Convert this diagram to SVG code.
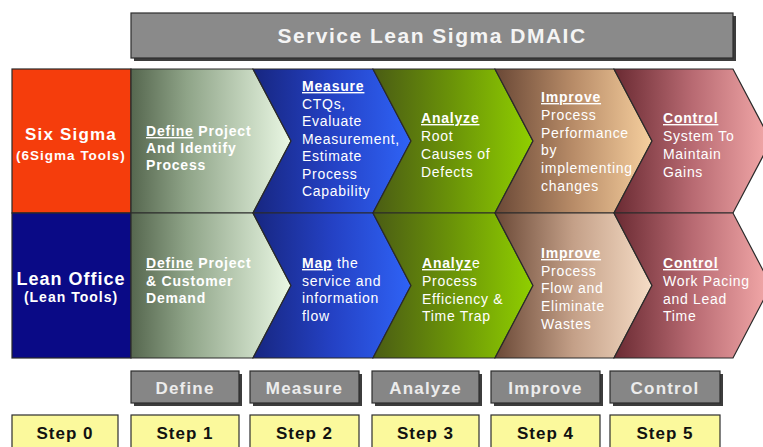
<svg xmlns="http://www.w3.org/2000/svg" width="763" height="447" viewBox="0 0 763 447">
  <defs>
    <linearGradient id="gDefine" x1="0" y1="0" x2="1" y2="0">
      <stop offset="0" stop-color="#56674f"/>
      <stop offset="0.35" stop-color="#8fa488"/>
      <stop offset="1" stop-color="#eaf8e4"/>
    </linearGradient>
    <linearGradient id="gMeasure" x1="0" y1="0" x2="1" y2="0">
      <stop offset="0" stop-color="#172680"/>
      <stop offset="0.5" stop-color="#2441c4"/>
      <stop offset="1" stop-color="#2f63f6"/>
    </linearGradient>
    <linearGradient id="gAnalyze" x1="0" y1="0" x2="1" y2="0">
      <stop offset="0" stop-color="#4a5c14"/>
      <stop offset="0.5" stop-color="#6b9408"/>
      <stop offset="1" stop-color="#90cf00"/>
    </linearGradient>
    <linearGradient id="gImprove1" x1="0" y1="0" x2="1" y2="0">
      <stop offset="0" stop-color="#6a4836"/>
      <stop offset="0.5" stop-color="#b88c68"/>
      <stop offset="1" stop-color="#f6cf9e"/>
    </linearGradient>
    <linearGradient id="gImprove2" x1="0" y1="0" x2="1" y2="0">
      <stop offset="0" stop-color="#6a4836"/>
      <stop offset="0.5" stop-color="#c4a088"/>
      <stop offset="1" stop-color="#f6ddc6"/>
    </linearGradient>
    <linearGradient id="gControl" x1="0" y1="0" x2="1" y2="0">
      <stop offset="0" stop-color="#6a2a32"/>
      <stop offset="0.5" stop-color="#b86a72"/>
      <stop offset="1" stop-color="#f4aaaa"/>
    </linearGradient>
  </defs>
  <style>
    .sans { font-family: "Liberation Sans", Arial, sans-serif; }
    .title { font-family: "Liberation Sans", Arial, sans-serif; font-weight: bold; font-size: 21px; letter-spacing: 1.5px; fill: #f4f4f4; }
    .side { font-family: "Liberation Sans", Arial, sans-serif; font-weight: bold; fill: #ffffff; }
    .hd { font-family: "Liberation Sans", Arial, sans-serif; font-weight: bold; font-size: 14px; letter-spacing: 0.8px; fill: #ffffff; }
    .ul { text-decoration: underline; }
    .bd { font-family: "Liberation Sans", Arial, sans-serif; font-size: 14px; letter-spacing: 0.7px; fill: #ffffff; }
    .chev { stroke: #2a2a2a; stroke-width: 1.2; }
    .phase { fill: #868686; stroke: #2e2e2e; stroke-width: 1.2; }
    .shade { fill: #3c3c3c; }
    .phaseTxt { font-family: "Liberation Sans", Arial, sans-serif; font-weight: bold; font-size: 17px; letter-spacing: 1.2px; fill: #ececec; }
    .step { fill: #fbf99c; stroke: #2e2e2e; stroke-width: 1.2; }
    .stepTxt { font-family: "Liberation Sans", Arial, sans-serif; font-weight: bold; font-size: 17px; letter-spacing: 1px; fill: #111111; }
  </style>

  <rect width="763" height="447" fill="#ffffff"/>

  <!-- banner -->
  <g id="title">
    <rect x="134" y="16" width="602" height="45" class="shade"/>
    <rect x="131" y="13" width="602" height="45" fill="#8a8a8a" stroke="#2e2e2e" stroke-width="1.2"/>
    <text x="432" y="43" text-anchor="middle" class="title">Service Lean Sigma DMAIC</text>
  </g>

  <!-- row headers -->
  <g id="six-sigma">
    <rect x="12" y="69" width="119" height="144" fill="#f53d0c" stroke="#2a2a2a" stroke-width="1.2"/>
    <text x="71" y="140" text-anchor="middle" class="side" font-size="17" letter-spacing="1.2">Six Sigma</text>
    <text x="71" y="160" text-anchor="middle" class="side" font-size="13.5" letter-spacing="1">(6Sigma Tools)</text>
  </g>
  <g id="lean-office">
    <rect x="12" y="213" width="119" height="145" fill="#0a0a86" stroke="#2a2a2a" stroke-width="1.2"/>
    <text x="71" y="285" text-anchor="middle" class="side" font-size="18" letter-spacing="1">Lean Office</text>
    <text x="71" y="302" text-anchor="middle" class="side" font-size="14" letter-spacing="1">(Lean Tools)</text>
  </g>

  <!-- Six Sigma row -->
  <g id="ss-define">
    <polygon class="chev" fill="url(#gDefine)" points="131,69 253,69 291,141 253,213 131,213"/>
    <text class="hd" x="146" y="136"><tspan class="ul">Define</tspan> Project</text>
    <text class="hd" x="146" y="153">And Identify</text>
    <text class="hd" x="146" y="170">Process</text>
  </g>
  <g id="ss-measure">
    <polygon class="chev" fill="url(#gMeasure)" points="253,69 373,69 411,141 373,213 253,213 291,141"/>
    <text class="hd ul" x="302" y="91">Measure</text>
    <text class="bd" x="302" y="108.5">CTQs,</text>
    <text class="bd" x="302" y="126">Evaluate</text>
    <text class="bd" x="302" y="143.5">Measurement,</text>
    <text class="bd" x="302" y="161">Estimate</text>
    <text class="bd" x="302" y="178.5">Process</text>
    <text class="bd" x="302" y="196">Capability</text>
  </g>
  <g id="ss-analyze">
    <polygon class="chev" fill="url(#gAnalyze)" points="373,69 495,69 533,141 495,213 373,213 411,141"/>
    <text class="hd ul" x="421" y="123">Analyze</text>
    <text class="bd" x="421" y="141">Root</text>
    <text class="bd" x="421" y="159">Causes of</text>
    <text class="bd" x="421" y="177">Defects</text>
  </g>
  <g id="ss-improve">
    <polygon class="chev" fill="url(#gImprove1)" points="495,69 614,69 652,141 614,213 495,213 533,141"/>
    <text class="hd ul" x="541" y="102">Improve</text>
    <text class="bd" x="541" y="120">Process</text>
    <text class="bd" x="541" y="137.5">Performance</text>
    <text class="bd" x="541" y="155">by</text>
    <text class="bd" x="541" y="173">implementing</text>
    <text class="bd" x="541" y="191">changes</text>
  </g>
  <g id="ss-control">
    <polygon class="chev" fill="url(#gControl)" points="614,69 733,69 771,141 733,213 614,213 652,141"/>
    <text class="hd ul" x="663" y="123">Control</text>
    <text class="bd" x="663" y="141">System To</text>
    <text class="bd" x="663" y="159">Maintain</text>
    <text class="bd" x="663" y="177">Gains</text>
  </g>

  <!-- Lean Office row -->
  <g id="lo-define">
    <polygon class="chev" fill="url(#gDefine)" points="131,213 253,213 291,285.5 253,358 131,358"/>
    <text class="hd" x="146" y="268"><tspan class="ul">Define</tspan> Project</text>
    <text class="hd" x="146" y="285.5">&amp; Customer</text>
    <text class="hd" x="146" y="303">Demand</text>
  </g>
  <g id="lo-map">
    <polygon class="chev" fill="url(#gMeasure)" points="253,213 373,213 411,285.5 373,358 253,358 291,285.5"/>
    <text class="bd" x="302" y="268"><tspan class="hd ul">Map</tspan> the</text>
    <text class="bd" x="302" y="285.7">service and</text>
    <text class="bd" x="302" y="303.4">information</text>
    <text class="bd" x="302" y="321">flow</text>
  </g>
  <g id="lo-analyze">
    <polygon class="chev" fill="url(#gAnalyze)" points="373,213 495,213 533,285.5 495,358 373,358 411,285.5"/>
    <text class="bd" x="422" y="268"><tspan class="hd ul">Analyz</tspan>e</text>
    <text class="bd" x="422" y="286">Process</text>
    <text class="bd" x="422" y="303.5">Efficiency &amp;</text>
    <text class="bd" x="422" y="321">Time Trap</text>
  </g>
  <g id="lo-improve">
    <polygon class="chev" fill="url(#gImprove2)" points="495,213 614,213 652,285.5 614,358 495,358 533,285.5"/>
    <text class="hd ul" x="541" y="258">Improve</text>
    <text class="bd" x="541" y="275.5">Process</text>
    <text class="bd" x="541" y="293">Flow and</text>
    <text class="bd" x="541" y="311">Eliminate</text>
    <text class="bd" x="541" y="329">Wastes</text>
  </g>
  <g id="lo-control">
    <polygon class="chev" fill="url(#gControl)" points="614,213 733,213 771,285.5 733,358 614,358 652,285.5"/>
    <text class="hd ul" x="663" y="268">Control</text>
    <text class="bd" x="663" y="286">Work Pacing</text>
    <text class="bd" x="663" y="303.5">and Lead</text>
    <text class="bd" x="663" y="321">Time</text>
  </g>

  <!-- phase labels -->
  <g id="phase-define">
    <rect x="134" y="374" width="108" height="32" class="shade"/>
    <rect x="131" y="371" width="108" height="32" class="phase"/>
    <text x="185" y="393.5" text-anchor="middle" class="phaseTxt">Define</text>
  </g>
  <g id="phase-measure">
    <rect x="253" y="374" width="109" height="32" class="shade"/>
    <rect x="250" y="371" width="109" height="32" class="phase"/>
    <text x="304.5" y="393.5" text-anchor="middle" class="phaseTxt">Measure</text>
  </g>
  <g id="phase-analyze">
    <rect x="375" y="374" width="107" height="32" class="shade"/>
    <rect x="372" y="371" width="107" height="32" class="phase"/>
    <text x="425.5" y="393.5" text-anchor="middle" class="phaseTxt">Analyze</text>
  </g>
  <g id="phase-improve">
    <rect x="494" y="374" width="109" height="32" class="shade"/>
    <rect x="491" y="371" width="109" height="32" class="phase"/>
    <text x="545.5" y="393.5" text-anchor="middle" class="phaseTxt">Improve</text>
  </g>
  <g id="phase-control">
    <rect x="613" y="374" width="110" height="32" class="shade"/>
    <rect x="610" y="371" width="110" height="32" class="phase"/>
    <text x="665" y="393.5" text-anchor="middle" class="phaseTxt">Control</text>
  </g>

  <!-- step numbers -->
  <g id="step-0">
    <rect x="12" y="415" width="106" height="40" class="step"/>
    <text x="65" y="439" text-anchor="middle" class="stepTxt">Step 0</text>
  </g>
  <g id="step-1">
    <rect x="131" y="415" width="108" height="40" class="step"/>
    <text x="185" y="439" text-anchor="middle" class="stepTxt">Step 1</text>
  </g>
  <g id="step-2">
    <rect x="250" y="415" width="109" height="40" class="step"/>
    <text x="304.5" y="439" text-anchor="middle" class="stepTxt">Step 2</text>
  </g>
  <g id="step-3">
    <rect x="372" y="415" width="107" height="40" class="step"/>
    <text x="425.5" y="439" text-anchor="middle" class="stepTxt">Step 3</text>
  </g>
  <g id="step-4">
    <rect x="491" y="415" width="109" height="40" class="step"/>
    <text x="545.5" y="439" text-anchor="middle" class="stepTxt">Step 4</text>
  </g>
  <g id="step-5">
    <rect x="610" y="415" width="110" height="40" class="step"/>
    <text x="665" y="439" text-anchor="middle" class="stepTxt">Step 5</text>
  </g>
</svg>
